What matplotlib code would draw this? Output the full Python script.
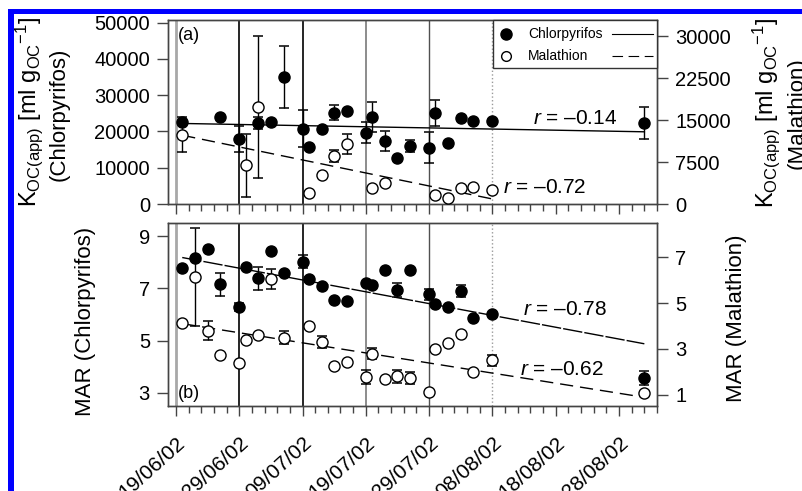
import numpy as np
import matplotlib.pyplot as plt
import matplotlib.dates as mdates
from matplotlib.patches import Rectangle

plt.rcParams['font.family'] = ['Liberation Sans', 'DejaVu Sans']
plt.rcParams['mathtext.fontset'] = 'custom'
plt.rcParams['mathtext.rm'] = 'Liberation Sans'
plt.rcParams['mathtext.it'] = 'Liberation Sans:italic'
plt.rcParams['mathtext.bf'] = 'Liberation Sans:bold'

# --- data ---
# (a) Koc(app) chlorpyrifos, left axis
koc_chl_dates = np.array(['2002-06-20', '2002-06-26', '2002-06-29', '2002-07-02', '2002-07-04', '2002-07-06',
                          '2002-07-09', '2002-07-10', '2002-07-12', '2002-07-14', '2002-07-16', '2002-07-19',
                          '2002-07-20', '2002-07-22', '2002-07-24', '2002-07-26', '2002-07-29', '2002-07-30',
                          '2002-08-01', '2002-08-03', '2002-08-05', '2002-08-08', '2002-09-01'], dtype='datetime64[D]')
koc_chl = [22700, 24000, 17900, 22400, 22500, 35000, 20800, 15800, 20600, 25200, 25600, 19700,
           24000, 17400, 12800, 16000, 15500, 25000, 16900, 23600, 22900, 23000, 22200]
koc_chl_err = [0, 0, 3500, 1700, 0, 8600, 5000, 0, 0, 2000, 0, 2800,
               4200, 2850, 0, 1650, 4250, 3550, 0, 0, 0, 0, 4400]

# (a) Koc(app) malathion, right axis
koc_mal_dates = np.array(['2002-06-20', '2002-06-30', '2002-07-02', '2002-07-10', '2002-07-12', '2002-07-14',
                          '2002-07-16', '2002-07-20', '2002-07-22', '2002-07-30', '2002-08-01', '2002-08-03',
                          '2002-08-05', '2002-08-08'], dtype='datetime64[D]')
koc_mal = [12400, 6900, 17400, 1900, 5150, 8600, 10800, 2900, 3700, 1700, 1000, 2800, 3000, 2500]
koc_mal_err = [3100, 5600, 12700, 0, 0, 1100, 1800, 0, 0, 0, 0, 0, 0, 0]

# (b) MAR chlorpyrifos, left axis
mar_chl_dates = np.array(['2002-06-20', '2002-06-22', '2002-06-24', '2002-06-26', '2002-06-29', '2002-06-30',
                          '2002-07-02', '2002-07-04', '2002-07-06', '2002-07-09', '2002-07-10', '2002-07-12',
                          '2002-07-14', '2002-07-16', '2002-07-19', '2002-07-20', '2002-07-22', '2002-07-24',
                          '2002-07-26', '2002-07-29', '2002-07-30', '2002-08-01', '2002-08-03', '2002-08-05',
                          '2002-08-08', '2002-09-01'], dtype='datetime64[D]')
mar_chl = [7.78, 8.17, 8.49, 7.15, 6.28, 7.80, 7.38, 8.42, 7.57, 8.01, 7.34, 7.09,
           6.55, 6.52, 7.19, 7.13, 7.70, 6.94, 7.72, 6.77, 6.39, 6.28, 6.91, 5.86, 6.02, 3.57]
mar_chl_err = [0, 0, 0, 0.44, 0.15, 0, 0.44, 0, 0, 0.25, 0.1, 0,
               0, 0, 0, 0, 0, 0.28, 0, 0.2, 0, 0, 0.23, 0, 0, 0.27]

# (b) MAR malathion, right axis
mar_mal_dates = np.array(['2002-06-20', '2002-06-22', '2002-06-24', '2002-06-26', '2002-06-29', '2002-06-30',
                          '2002-07-02', '2002-07-04', '2002-07-06', '2002-07-10', '2002-07-12', '2002-07-14',
                          '2002-07-16', '2002-07-19', '2002-07-20', '2002-07-22', '2002-07-24', '2002-07-26',
                          '2002-07-29', '2002-07-30', '2002-08-01', '2002-08-03', '2002-08-05', '2002-08-08',
                          '2002-09-01'], dtype='datetime64[D]')
mar_mal = [4.12, 6.15, 3.80, 2.75, 2.38, 3.40, 3.59, 6.05, 3.49, 3.98, 3.30, 2.24,
           2.43, 1.77, 2.79, 1.67, 1.80, 1.72, 1.12, 3.00, 3.25, 3.66, 1.99, 2.50, 1.05]
mar_mal_err = [0, 2.14, 0.43, 0, 0, 0, 0, 0.43, 0.27, 0, 0.28, 0,
               0, 0.29, 0.25, 0, 0.28, 0.27, 0, 0, 0, 0, 0, 0.25, 0]

# regression lines (end points)
fit_koc_chl_dates = np.array(['2002-06-20', '2002-09-01'], dtype='datetime64[D]')
fit_koc_chl = [22200, 19900]
fit_koc_mal_dates = np.array(['2002-06-20', '2002-08-08'], dtype='datetime64[D]')
fit_koc_mal = [12300, 900]
fit_mar_dates = np.array(['2002-06-20', '2002-09-01'], dtype='datetime64[D]')
fit_mar_chl = [8.18, 4.88]
fit_mar_mal = [4.10, 0.88]

r_labels = ['\u20130.14', '\u20130.72', '\u20130.78', '\u20130.62']

# event lines
event_dates = np.array(['2002-06-19', '2002-06-29', '2002-07-09', '2002-07-19', '2002-07-29', '2002-08-08'],
                       dtype='datetime64[D]')
event_colors = ['#a8a8a8', 'black', 'black', '#8c8c8c', '#505050', '#9a9a9a']
event_widths = [2.0, 1.2, 1.2, 1.4, 1.0, 1.0]
event_styles = ['-', '-', '-', '-', '-', ':']

koc_label = r'K$_\mathregular{OC(app)}$ [ml g$_\mathregular{OC}$$^\mathregular{-1}$]'

fig = plt.figure(figsize=(8.03, 4.91), dpi=100)
ax1 = fig.add_axes([0.2092, 0.5845, 0.6090, 0.3747])
ax3 = fig.add_axes([0.2092, 0.1731, 0.6090, 0.3727])
ax2 = ax1.twinx()
ax4 = ax3.twinx()

start = mdates.date2num(np.datetime64('2002-06-19'))
majors = np.arange(np.datetime64('2002-06-19'), np.datetime64('2002-09-05'), np.timedelta64(10, 'D'))
minors = np.arange(np.datetime64('2002-06-19'), np.datetime64('2002-09-05'), np.timedelta64(2, 'D'))


def draw_series(ax, d, v, e, filled):
    ax.errorbar(d, v, yerr=e, fmt='none', ecolor='black', elinewidth=1.0,
                capsize=3.3, capthick=1.1, zorder=3)
    ax.plot(d, v, 'o', ms=8, mfc='black' if filled else 'white', mec='black', mew=1, zorder=4)


for ax in [ax1, ax3]:
    for d, c, w, s in zip(event_dates, event_colors, event_widths, event_styles):
        ax.axvline(d, color=c, lw=w, ls=s, zorder=1)

for ax in [ax1, ax2, ax3, ax4]:
    ax.set_xlim(start - 1.25, start + 76)
    ax.xaxis.set_major_locator(plt.FixedLocator(mdates.date2num(majors)))
    ax.xaxis.set_minor_locator(plt.FixedLocator(mdates.date2num(minors)))
    ax.xaxis.set_major_formatter(mdates.DateFormatter('%d/%m/%y'))
    ax.tick_params(axis='x', which='major', direction='out', length=7.5, width=1, color='#444444')
    ax.tick_params(axis='x', which='minor', direction='out', length=5, width=1, color='#444444')
    ax.tick_params(axis='y', direction='out', length=8, width=1, labelsize=14.5, pad=5, color='#444444')
    for sp in ax.spines.values():
        sp.set_color('#444444')
        sp.set_linewidth(1)

# panel (a)
draw_series(ax1, koc_chl_dates, koc_chl, koc_chl_err, True)
draw_series(ax2, koc_mal_dates, koc_mal, koc_mal_err, False)
ax1.plot(fit_koc_chl_dates, fit_koc_chl, color='black', lw=1, zorder=2)
ax2.plot(fit_koc_mal_dates, fit_koc_mal, color='black', lw=1, dashes=(9.5, 5), zorder=2)
ax1.set_ylim(0, 50700)
ax1.set_yticks([0, 10000, 20000, 30000, 40000, 50000])
ax2.set_ylim(0, 32900)
ax2.set_yticks([0, 7500, 15000, 22500, 30000])
ax1.tick_params(axis='x', which='both', labelbottom=False)
ax2.tick_params(axis='x', which='both', labelbottom=False)

# panel (b)
draw_series(ax3, mar_chl_dates, mar_chl, mar_chl_err, True)
draw_series(ax4, mar_mal_dates, mar_mal, mar_mal_err, False)
ax3.plot(fit_mar_dates, fit_mar_chl, color='black', lw=1, dashes=(14, 1.5), zorder=2)
ax4.plot(fit_mar_dates, fit_mar_mal, color='black', lw=1, dashes=(9.5, 5), zorder=2)
ax3.set_ylim(2.5, 9.5)
ax3.set_yticks([3, 5, 7, 9])
ax4.set_ylim(0.5, 8.5)
ax4.set_yticks([1, 3, 5, 7])
ax3.tick_params(axis='x', which='major', labelsize=15, pad=12)
plt.setp(ax3.get_xticklabels(), rotation=42, ha='right', va='top', rotation_mode='anchor')

# annotations
ax1.text(0.020, 0.918, '(a)', transform=ax1.transAxes, fontsize=13, va='center')
ax3.text(0.020, 0.066, '(b)', transform=ax3.transAxes, fontsize=13, va='center')
ax1.text(0.746, 0.467, r'$r$ = ' + r_labels[0], transform=ax1.transAxes, fontsize=15, va='center')
ax1.text(0.685, 0.092, r'$r$ = ' + r_labels[1], transform=ax1.transAxes, fontsize=15, va='center')
ax3.text(0.726, 0.530, r'$r$ = ' + r_labels[2], transform=ax3.transAxes, fontsize=15, va='center')
ax3.text(0.720, 0.202, r'$r$ = ' + r_labels[3], transform=ax3.transAxes, fontsize=15, va='center')

# legend drawn by hand: marker, name, line sample
ax2.add_patch(Rectangle((0.665, 0.739), 0.335, 0.261, transform=ax2.transAxes,
                        facecolor='white', edgecolor='#333333', lw=1, zorder=10, clip_on=False))
ax2.plot([0.691], [0.924], 'o', ms=8, mfc='black', mec='black', transform=ax2.transAxes, zorder=11, clip_on=False)
ax2.plot([0.691], [0.804], 'o', ms=7, mfc='white', mec='black', mew=1, transform=ax2.transAxes, zorder=11, clip_on=False)
ax2.text(0.736, 0.924, 'Chlorpyrifos', transform=ax2.transAxes, fontsize=10, va='center', zorder=11)
ax2.text(0.736, 0.804, 'Malathion', transform=ax2.transAxes, fontsize=10, va='center', zorder=11)
ax2.plot([0.908, 0.992], [0.924, 0.924], color='black', lw=0.8, transform=ax2.transAxes, zorder=11)
ax2.plot([0.908, 0.992], [0.804, 0.804], color='black', lw=0.8, dashes=(9.5, 5), transform=ax2.transAxes, zorder=11)

# axis titles
fig.text(29 / 803, 1 - 112 / 491, koc_label, rotation=90, ha='center', va='center', fontsize=17)
fig.text(59 / 803, 1 - 114 / 491, '(Chlorpyrifos)', rotation=90, ha='center', va='center', fontsize=16)
fig.text(766 / 803, 1 - 113 / 491, koc_label, rotation=90, ha='center', va='center', fontsize=17)
fig.text(797 / 803, 1 - 113 / 491, '(Malathion)', rotation=90, ha='center', va='center', fontsize=16)
fig.text(86 / 803, 1 - 321 / 491, 'MAR (Chlorpyrifos)', rotation=90, ha='center', va='center', fontsize=16)
fig.text(737 / 803, 1 - 318 / 491, 'MAR (Malathion)', rotation=90, ha='center', va='center', fontsize=16)

# blue frame (top and left)
fig.patches.append(Rectangle((8 / 803, 1 - 14 / 491), 1, 5 / 491, transform=fig.transFigure,
                             facecolor='#0000ff', edgecolor='none', zorder=20))
fig.patches.append(Rectangle((8 / 803, 0), 6 / 803, 1 - 9 / 491, transform=fig.transFigure,
                             facecolor='#0000ff', edgecolor='none', zorder=20))

fig.savefig('out.png', dpi=100)
